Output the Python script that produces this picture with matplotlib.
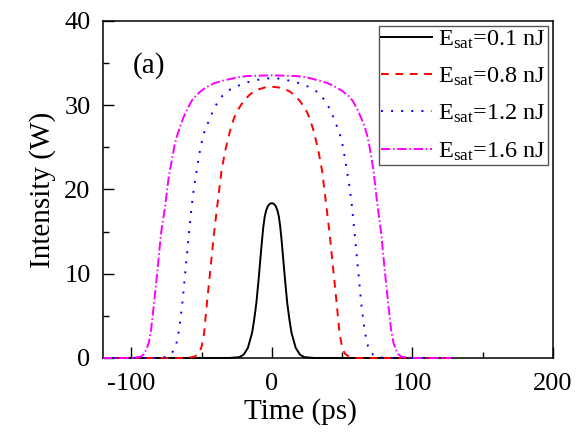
import matplotlib
matplotlib.use("Agg")
import matplotlib.pyplot as plt
from matplotlib.ticker import MultipleLocator

plt.rcParams['font.family'] = ['Liberation Serif', 'DejaVu Serif']
plt.rcParams['mathtext.fontset'] = 'custom'
plt.rcParams['mathtext.rm'] = 'Liberation Serif'
plt.rcParams['mathtext.it'] = 'Liberation Serif:italic'
plt.rcParams['axes.unicode_minus'] = False

# Pulse intensity profiles (time in ps, intensity in W)
t_01 = [-120, -30, -23, -20, -17, -14, -12.5, -11, -9.5, -8, -7, -6, -5, -4, -3, -2, -1, 0,
        1, 2, 3, 4, 5, 6, 7, 8, 9.5, 11, 12.5, 14, 17, 20, 23, 30, 128]
I_01 = [0, 0, 0.1, 0.4, 1.2, 3.0, 4.6, 6.5, 9.1, 12.0, 13.9, 15.6, 16.8, 17.5, 17.95, 18.2, 18.33, 18.36,
        18.33, 18.2, 17.95, 17.5, 16.8, 15.6, 13.9, 12.0, 9.1, 6.5, 4.6, 3.0, 1.2, 0.4, 0.1, 0, 0]

t_08 = [-120, -60, -55, -52, -50, -48.2, -45.9, -43.5, -41.1, -38.3, -35.7, -33, -31, -29.3, -27, -25,
        -22, -20, -16, -13, -10, -5, 0, 5, 10, 13, 16, 20, 22, 25, 27, 29.3, 31, 33, 35.7, 38.3,
        41.1, 43.5, 45.9, 48.2, 50, 52, 55, 60, 128]
I_08 = [0, 0, 0.15, 0.5, 1.3, 2.9, 6.9, 10.8, 14.8, 18.75, 22.3, 24.7, 26.1, 27.2, 28.4, 29.2,
        30.0, 30.5, 31.2, 31.6, 31.85, 32.1, 32.2, 32.1, 31.85, 31.6, 31.2, 30.5, 30.0, 29.2, 28.4, 27.2, 26.1,
        24.7, 22.3, 18.75, 14.8, 10.8, 6.9, 2.9, 1.3, 0.5, 0.15, 0, 0]

t_12 = [-120, -80, -74.2, -72, -69.5, -68, -66, -63.6, -61.2, -58.9, -57, -55.3, -53, -50.6, -48.2,
        -44.7, -41.1, -38, -35.2, -32, -29.3, -26, -22.2, -18, -12.8, -6, 0, 6, 12.8, 18, 22.2, 26,
        29.3, 32, 35.2, 38, 41.1, 44.7, 48.2, 50.6, 53, 55.3, 57, 58.9, 61.2, 63.6, 66, 68, 69.5,
        72, 74.2, 80, 128]
I_12 = [0, 0, 0.15, 0.4, 0.95, 1.6, 3.3, 6.5, 10.8, 14.8, 18.0, 20.3, 22.7, 25.1, 26.7,
        28.2, 29.6, 30.5, 31.1, 31.6, 31.9, 32.2, 32.4, 32.7, 32.9, 33.15, 33.2, 33.15, 32.9, 32.7, 32.4, 32.2,
        31.9, 31.6, 31.1, 30.5, 29.6, 28.2, 26.7, 25.1, 22.7, 20.3, 18.0, 14.8, 10.8, 6.5, 3.3, 1.6, 0.95,
        0.4, 0.15, 0, 0]

t_16 = [-120, -101, -93, -91, -89.4, -87.5, -85.9, -83.5, -81.1, -78.8, -75.9, -73.3, -70.5, -69, -67,
        -64.5, -62.2, -59, -56.3, -51, -46.9, -41, -35, -26, -18.5, -10, 0, 10, 17.5, 25, 34, 40,
        45.9, 50, 55.3, 58, 61.2, 63.5, 66, 68, 69.5, 72.3, 74.7, 77.8, 80.1, 82.5, 84.9, 86.5, 88.4,
        90, 92, 100, 128]
I_16 = [0, 0, 0.15, 0.45, 0.95, 1.8, 3.3, 6.9, 10.8, 14.8, 18.0, 21.5, 24.0, 25.4, 26.6,
        27.8, 28.8, 29.9, 30.7, 31.6, 32.1, 32.6, 32.9, 33.25, 33.45, 33.5, 33.55, 33.5, 33.45, 33.3, 32.9, 32.6,
        32.1, 31.7, 31.0, 30.4, 29.4, 28.5, 27.5, 26.3, 25.1, 22.3, 18.75, 14.8, 10.8, 6.9, 3.3, 1.8, 0.95,
        0.45, 0.15, 0, 0]

labels = [r'E$_{\mathrm{sat}}$=0.1 nJ', r'E$_{\mathrm{sat}}$=0.8 nJ',
          r'E$_{\mathrm{sat}}$=1.2 nJ', r'E$_{\mathrm{sat}}$=1.6 nJ']

fig = plt.figure(figsize=(5.76, 4.36), dpi=100)
ax = fig.add_axes([0.179, 0.179, 0.781, 0.773])

lw = 1.4
ax.plot(t_01, I_01, color='black', lw=lw, ls='-', label=labels[0], zorder=3, clip_on=False)
ax.plot(t_08, I_08, color='red', lw=lw, ls=(0, (4, 3.4)), label=labels[1], zorder=3, clip_on=False)
ax.plot(t_12, I_12, color='blue', lw=lw, ls=(0, (1, 4.2)), label=labels[2], zorder=3, clip_on=False)
ax.plot(t_16, I_16, color='magenta', lw=lw, ls=(0, (4.8, 1.4, 0.8, 1.4)), label=labels[3], zorder=3, clip_on=False)

ax.set_xlim(-120, 200)
ax.set_ylim(0, 40)
ax.xaxis.set_major_locator(MultipleLocator(100))
ax.xaxis.set_minor_locator(MultipleLocator(50))
ax.yaxis.set_major_locator(MultipleLocator(10))
ax.yaxis.set_minor_locator(MultipleLocator(5))
ax.tick_params(which='both', direction='in', top=False, right=False, width=1.0, labelsize=19)
ax.tick_params(which='major', length=8)
ax.tick_params(axis='x', which='major', pad=11)
ax.tick_params(axis='y', which='major', pad=9)
ax.tick_params(which='minor', length=4.5)
for s in ax.spines.values():
    s.set_linewidth(1.1)

ax.set_xlabel('Time (ps)', fontsize=21, labelpad=2, x=0.438)
ax.set_ylabel('Intensity (W)', fontsize=21, labelpad=6)

ax.text(0.066, 0.869, '(a)', transform=ax.transAxes, fontsize=21, va='center')

leg = ax.legend(loc='upper right', fontsize=17.5, frameon=True, fancybox=False,
                edgecolor='#555555', framealpha=1, handlelength=2.1, handletextpad=0.25,
                labelspacing=0.62, borderpad=0.1, borderaxespad=0.2)
leg.get_frame().set_linewidth(1.0)

fig.savefig('out.png', dpi=100)
